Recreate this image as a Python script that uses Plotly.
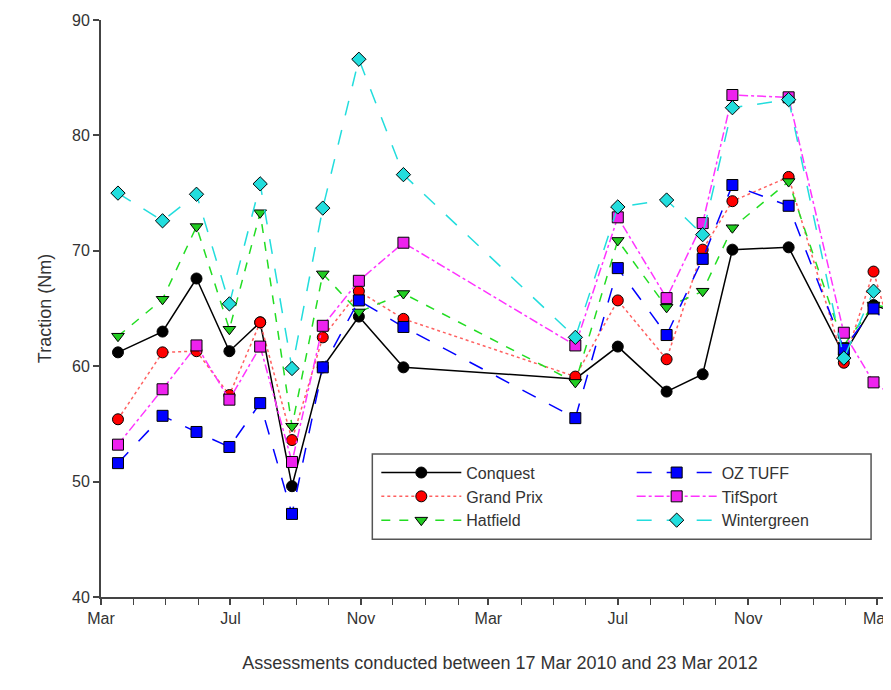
import plotly.graph_objects as go

dates = ["2010-03-17", "2010-04-28", "2010-05-30", "2010-06-30", "2010-07-29",
         "2010-08-28", "2010-09-26", "2010-10-30", "2010-12-11",
         "2011-05-22", "2011-07-01", "2011-08-16", "2011-09-19", "2011-10-17",
         "2011-12-09", "2012-01-30", "2012-02-27", "2012-03-20"]

conquest = [61.2, 63.0, 67.6, 61.3, 63.8, 49.6, 59.9, 64.3, 59.9,
            58.9, 61.7, 57.8, 59.3, 70.1, 70.3, 61.0, 65.3, 64.6]
grand_prix = [55.4, 61.2, 61.3, 57.5, 63.8, 53.6, 62.5, 66.5, 64.1,
              59.1, 65.7, 60.6, 70.1, 74.3, 76.4, 60.3, 68.2, 61.2]
hatfield = [62.6, 65.8, 72.1, 63.2, 73.3, 54.8, 68.0, 64.7, 66.3,
            58.6, 70.9, 65.1, 66.5, 72.0, 76.0, 61.8, 65.3, 65.0]
oz_tuff = [51.6, 55.7, 54.3, 53.0, 56.8, 47.2, 59.9, 65.7, 63.4,
           55.5, 68.5, 62.7, 69.3, 75.7, 73.9, 61.5, 65.0, 62.7]
tifsport = [53.2, 58.0, 61.8, 57.1, 61.7, 51.7, 63.5, 67.4, 70.7,
            61.8, 72.9, 65.9, 72.4, 83.5, 83.3, 62.9, 58.6, 57.2]
wintergreen = [75.0, 72.6, 74.9, 65.4, 75.8, 59.8, 73.7, 86.6, 76.6,
               62.5, 73.8, 74.4, 71.4, 82.4, 83.1, 60.7, 66.5, 66.2]

# name, values, line colour, dash, marker, marker fill, legend
series = [
    ("Conquest", conquest, "black", "solid", "circle", "black", "legend"),
    ("Grand Prix", grand_prix, "#ff6060", "dot", "circle", "red", "legend"),
    ("Hatfield", hatfield, "#22dd22", "dash", "triangle-down", "#22cc22", "legend"),
    ("OZ TUFF", oz_tuff, "blue", "longdash", "square", "blue", "legend2"),
    ("TifSport", tifsport, "#ff33ff", "dashdot", "square", "#ee22ee", "legend2"),
    ("Wintergreen", wintergreen, "#22dddd", "longdash", "diamond", "#22dddd", "legend2"),
]

fig = go.Figure()
for name, vals, col, dash, sym, fc, leg in series:
    fig.add_trace(go.Scatter(
        x=dates, y=vals, name=name, mode="lines+markers", legend=leg,
        line=dict(color=col, dash=dash, width=1.5),
        marker=dict(symbol=sym, size=11, color=fc,
                    line=dict(color="black", width=1))))

legfont = dict(size=16, color="#333", family="Liberation Sans, Arial")
fig.update_layout(
    width=891, height=690,
    margin=dict(l=93, r=0, t=12, b=101),
    plot_bgcolor="white", paper_bgcolor="white",
    font=dict(family="Liberation Sans, Arial", size=15, color="#333"),
    showlegend=True,
    legend=dict(x=0.345, y=0.245, xanchor="left", yanchor="top",
                bgcolor="rgba(0,0,0,0)", font=legfont, tracegroupgap=0,
                itemwidth=80),
    legend2=dict(x=0.665, y=0.245, xanchor="left", yanchor="top",
                 bgcolor="rgba(0,0,0,0)", font=legfont, tracegroupgap=0,
                 itemwidth=80),
    shapes=[dict(type="rect", xref="paper", yref="paper",
                 x0=0.34, x1=0.965, y0=0.10, y1=0.248,
                 line=dict(color="#555", width=1.5), fillcolor="white",
                 layer="below")],
)
fig.update_xaxes(
    range=["2010-03-01", "2012-03-22"], type="date",
    tick0="2010-03-01", dtick="M4", tickformat="%b",
    ticks="outside", ticklen=6, tickwidth=1.5, tickcolor="#444",
    showline=True, linecolor="#444", linewidth=2, showgrid=False,
    minor=dict(dtick="M1", ticks="outside", ticklen=6, tickcolor="#444", tickwidth=1),
    title=dict(text="Assessments conducted between 17 Mar 2010 and 23 Mar 2012",
               font=dict(size=18), standoff=30),
    tickfont=dict(size=16),
)
fig.update_yaxes(
    range=[40, 90], dtick=10, ticks="outside", ticklen=6, tickwidth=1.5,
    tickcolor="#444", showline=True, linecolor="#444", linewidth=2,
    showgrid=False, zeroline=False,
    title=dict(text="Traction (Nm)", font=dict(size=18), standoff=16),
    tickfont=dict(size=16),
)

fig.write_html("out.html")
